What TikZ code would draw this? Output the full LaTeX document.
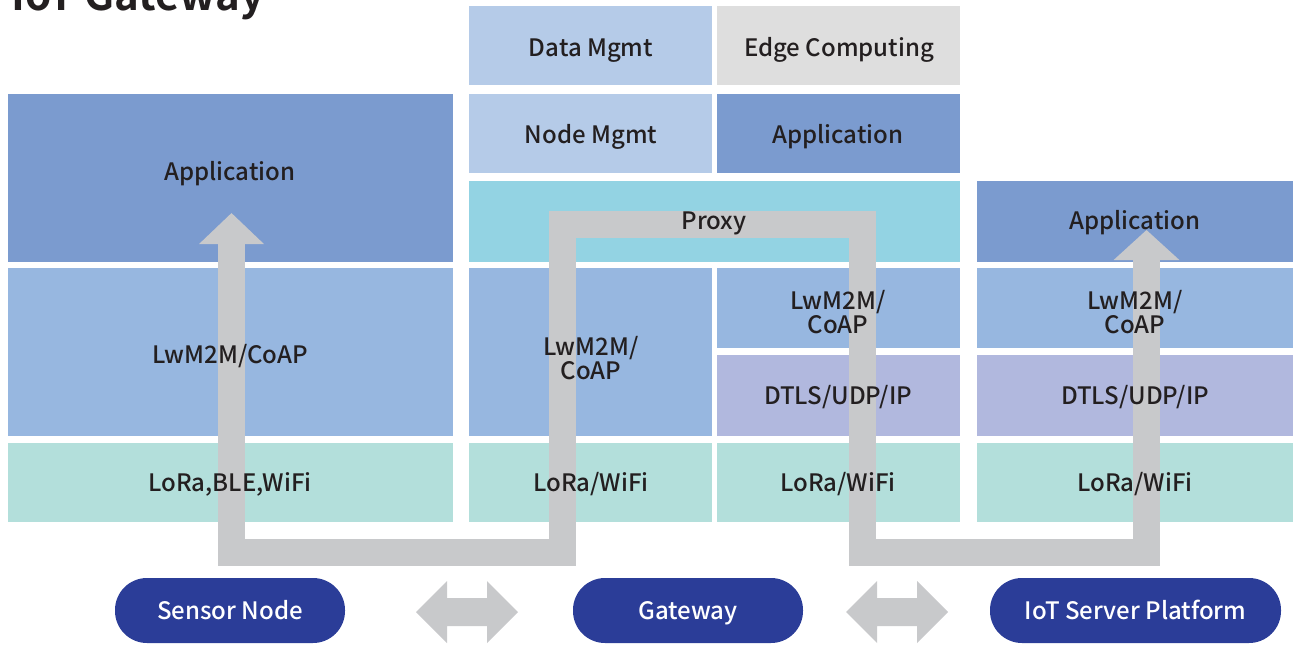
\documentclass[tikz,border=0pt]{standalone}
\usepackage{fontspec}
\setmainfont{Noto Sans CJK JP}[UprightFont=* Medium, BoldFont=* Bold]
\usetikzlibrary{arrows.meta}
\definecolor{appblue}{HTML}{7B9BCF}
\definecolor{protoblue}{HTML}{97B7E0}
\definecolor{radiogreen}{HTML}{B3DFDB}
\definecolor{mgmtblue}{HTML}{B5CBE8}
\definecolor{edgegray}{HTML}{DEDEDE}
\definecolor{proxycyan}{HTML}{93D3E3}
\definecolor{dtlsviolet}{HTML}{B1B8DE}
\definecolor{flowgray}{HTML}{C8C9CB}
\definecolor{pillblue}{HTML}{2B3D98}
\definecolor{inkblack}{HTML}{231F20}

\begin{document}
\begin{tikzpicture}[x=1pt, y=-1pt,
    stackbox/.style={rectangle, inner sep=0pt, anchor=north west},
    laytwo/.style={text=inkblack, font=\fontsize{24}{24}\selectfont, align=center, inner sep=0pt},
    laytext/.style={laytwo, text height=17.6pt, text depth=0pt},
    pill/.style={rectangle, rounded corners=32pt, fill=pillblue, text=white, minimum height=65pt,
        text height=17.6pt, text depth=0pt, font=\fontsize{24}{24}\selectfont, inner sep=0pt}]
    \useasboundingbox (0,0) rectangle (1293,645);

    % Title
    \node [anchor=base west, inner sep=0pt, text=inkblack, font=\fontsize{42}{48}\selectfont\bfseries] (title) at (11,10) {IoT Gateway};

    % Sensor node stack
    \node [stackbox, fill=appblue, minimum width=445pt, minimum height=168pt] (appL) at (8,94) {};
    \node [stackbox, fill=protoblue, minimum width=445pt, minimum height=168pt] (coapL) at (8,268) {};
    \node [stackbox, fill=radiogreen, minimum width=445pt, minimum height=79pt] (radioL) at (8,443) {};

    % Gateway stack
    \node [stackbox, fill=mgmtblue, minimum width=243pt, minimum height=79pt] (dataG) at (469,6) {};
    \node [stackbox, fill=edgegray, minimum width=243pt, minimum height=79pt] (edgeG) at (717,6) {};
    \node [stackbox, fill=mgmtblue, minimum width=243pt, minimum height=79pt] (nodeG) at (469,94) {};
    \node [stackbox, fill=appblue, minimum width=243pt, minimum height=79pt] (appG) at (717,94) {};
    \node [stackbox, fill=proxycyan, minimum width=491pt, minimum height=81pt] (proxyG) at (469,181) {};
    \node [stackbox, fill=protoblue, minimum width=243pt, minimum height=168pt] (coapGa) at (469,268) {};
    \node [stackbox, fill=protoblue, minimum width=243pt, minimum height=80pt] (coapGb) at (717,268) {};
    \node [stackbox, fill=dtlsviolet, minimum width=243pt, minimum height=81pt] (dtlsG) at (717,355) {};
    \node [stackbox, fill=radiogreen, minimum width=243pt, minimum height=79pt] (radioGa) at (469,443) {};
    \node [stackbox, fill=radiogreen, minimum width=243pt, minimum height=79pt] (radioGb) at (717,443) {};

    % Server stack
    \node [stackbox, fill=appblue, minimum width=316pt, minimum height=81pt] (appS) at (977,181) {};
    \node [stackbox, fill=protoblue, minimum width=316pt, minimum height=80pt] (coapS) at (977,268) {};
    \node [stackbox, fill=dtlsviolet, minimum width=316pt, minimum height=81pt] (dtlsS) at (977,355) {};
    \node [stackbox, fill=radiogreen, minimum width=316pt, minimum height=79pt] (radioS) at (977,443) {};

    % Data path
    \coordinate (srcTip) at (231.5,213);
    \coordinate (dstTip) at (1146.5,230);
    \draw [flowgray, line width=27pt, line join=miter, {Triangle[width=63pt,length=31pt]}-{Triangle[width=64pt,length=30pt]}]
        (srcTip) -- (231.5,552.5) -- (562.5,552.5) -- (562.5,224.5) -- (862,224.5) -- (862,552.5) -- (1146.5,552.5) -- (dstTip);

    % Layer Labels
    \node [laytext] at (230,172) {Application};
    \node [laytext] at (230,355) {LwM2M/CoAP};
    \node [laytext] at (230,483) {LoRa,BLE,WiFi};
    \node [laytext] at (591,48) {Data Mgmt};
    \node [laytext] at (839,48) {Edge Computing};
    \node [laytext] at (591,135) {Node Mgmt};
    \node [laytext] at (838,135) {Application};
    \node [laytext] at (714,221) {Proxy};
    \node [laytwo] at (591,358) {LwM2M/\\CoAP};
    \node [laytwo] at (838,312) {LwM2M/\\CoAP};
    \node [laytext] at (838,396) {DTLS/UDP/IP};
    \node [laytext] at (591,483) {LoRa/WiFi};
    \node [laytext] at (838,483) {LoRa/WiFi};
    \node [laytext] at (1135,221) {Application};
    \node [laytwo] at (1135,312) {LwM2M/\\CoAP};
    \node [laytext] at (1135,396) {DTLS/UDP/IP};
    \node [laytext] at (1135,483) {LoRa/WiFi};

    % Devices
    \node [pill, minimum width=230pt] (sensor) at (230,610.5) {Sensor Node};
    \node [pill, minimum width=230pt] (gateway) at (688,610.5) {Gateway};
    \node [pill, minimum width=291pt] (server) at (1135.5,610.5) {IoT Server Platform};

    % Exchange arrows
    \foreach \cx in {467,897}
        \fill [flowgray] (\cx-51,612) -- (\cx-20,581) -- (\cx-20,598) -- (\cx+20,598) -- (\cx+20,581)
            -- (\cx+51,612) -- (\cx+20,643) -- (\cx+20,626) -- (\cx-20,626) -- (\cx-20,643) -- cycle;
\end{tikzpicture}
\end{document}
